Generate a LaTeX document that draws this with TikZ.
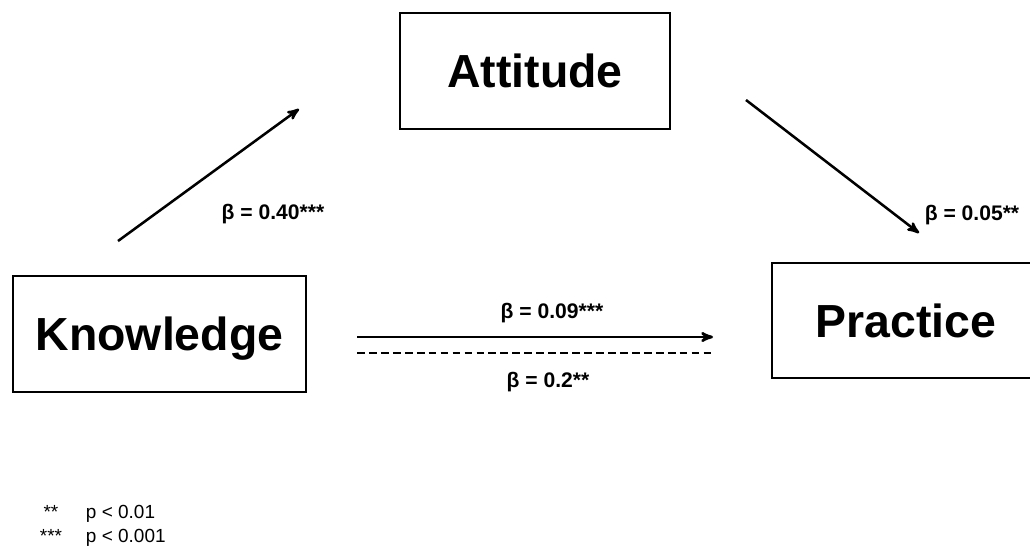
\documentclass[tikz,border=0pt]{standalone}
\usepackage{fontspec}
\setmainfont{Liberation Sans}
\usetikzlibrary{arrows,positioning}
\tikzset{
    %Define standard arrow tip
    >=stealth',
    %Define style for boxes
    block/.style={
           rectangle,
           draw=black,
           line width=1pt,
           minimum height=2.9cm,
           font=\fontsize{33}{36}\selectfont\bfseries,
           text height=23.6pt,
           text depth=0pt,
           text centered},
    %Define style for path weights
    weight/.style={
           font=\fontsize{15}{17}\selectfont\bfseries,
           text height=10.7pt,
           text depth=0pt},
    %Define style for the legend
    legend/.style={
           font=\fontsize{13.5}{16}\selectfont,
           text height=9.7pt,
           text depth=0pt},
    % Define arrow style
    arrow/.style={
           ->,
           line width=1.8pt,
           },
    % Define style for the dashed path
    dashline/.style={
           dash pattern=on 5.5pt off 3pt,
           line width=0.8pt,
           }
}

\begin{document}
\begin{tikzpicture}[x=0.025cm, y=-0.025cm]
    \useasboundingbox (0,0) rectangle (1030,548);
    \node [block, minimum width=7.325cm] (Knowledge) at (159.5,334) {Knowledge};
    \node [block, minimum width=6.75cm] (Attitude) at (535,71) {Attitude};
    \node [block, minimum width=6.7cm, minimum height=2.875cm] (Practice) at (906,320.5) {Practice};

    % arrow ends, kept apart from the boxes
    \coordinate (KA start) at (118,241);
    \coordinate (KA end) at (299,109);
    \coordinate (AP start) at (746,100);
    \coordinate (AP end) at (919,233);
    \coordinate (KP start) at (357,337);
    \coordinate (KP end) at (713,337);
    \coordinate (KPd start) at (357,353);
    \coordinate (KPd end) at (713,353);

	\path[->] (KA start) edge[arrow] (KA end);
	\path[->] (AP start) edge[arrow] (AP end);
	\path[->] (KP start) edge[arrow] (KP end);
	\path (KPd start) edge[dashline] (KPd end);

    \node [weight] (wKA) at (273,212) {β = 0.40***};
    \node [weight] (wAP) at (972,213) {β = 0.05**};
    \node [weight] (wKP) at (552,311) {β = 0.09***};
    \node [weight] (wKPd) at (548,380) {β = 0.2**};

    \node [legend] (star two) at (51,511.5) {**};
    \node [legend, anchor=west] (p two) at (81,511.5) {p < 0.01};
    \node [legend] (star three) at (51,536) {***};
    \node [legend, anchor=west] (p three) at (81,536) {p < 0.001};
\end{tikzpicture}
\end{document}
